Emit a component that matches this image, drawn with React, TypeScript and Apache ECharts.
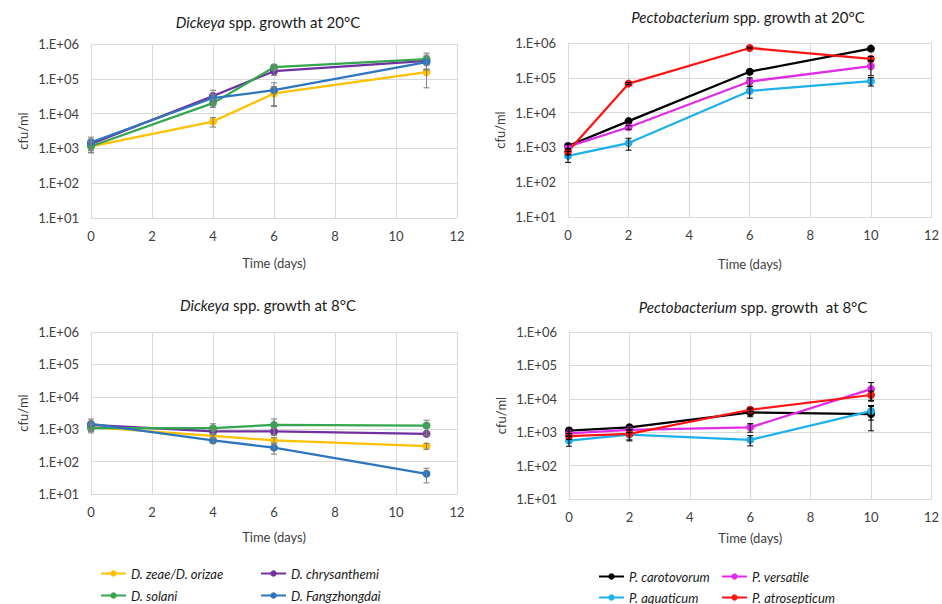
import React, { useEffect, useRef } from 'react';
import * as echarts from 'echarts';

// ---------- data ----------
const dickeyaDays = [0, 4, 6, 11];
const pectoDays = [0, 2, 6, 10];

const dickeyaNames = ['D. zeae/D. orizae', 'D. chrysanthemi', 'D. solani', 'D. Fangzhongdai'];
const pectoNames = ['P. carotovorum', 'P. versatile', 'P. aquaticum', 'P. atrosepticum'];

const dickeyaColors = ['#FFC000', '#7030A0', '#33A64F', '#2E75C0'];
const pectoColors = ['#000000', '#E02CE8', '#1CB0EC', '#FF1414'];

// Dickeya 20°C (cfu/ml) and SD
const zeae20 = [1150, 5900, 38000, 155000];
const zeae20Sd = [400, 1800, 22000, 100000];
const chrys20 = [1350, 32000, 165000, 330000];
const chrys20Sd = [500, 15000, 40000, 150000];
const solani20 = [1150, 20000, 215000, 370000];
const solani20Sd = [400, 5000, 40000, 180000];
const fang20 = [1500, 28000, 47000, 300000];
const fang20Sd = [600, 8000, 30000, 120000];

// Pectobacterium 20°C
const carot20 = [1100, 5700, 150000, 690000];
const carot20Sd = [200, 600, 15000, 90000];
const vers20 = [1050, 3800, 78000, 215000];
const vers20Sd = [150, 500, 22000, 100000];
const aqua20 = [570, 1330, 42000, 80000];
const aqua20Sd = [200, 500, 16000, 22000];
const atro20 = [760, 68000, 720000, 350000];
const atro20Sd = [150, 5000, 40000, 60000];

// Dickeya 8°C
const zeae8 = [1150, 620, 450, 300];
const zeae8Sd = [300, 100, 100, 60];
const chrys8 = [1350, 850, 850, 720];
const chrys8Sd = [400, 150, 200, 100];
const solani8 = [1070, 1070, 1360, 1300];
const solani8Sd = [300, 400, 700, 600];
const fang8 = [1460, 450, 270, 42];
const fang8Sd = [600, 80, 100, 20];

// Pectobacterium 8°C
const carot8 = [1120, 1400, 3900, 3500];
const carot8Sd = [200, 200, 1000, 2400];
const vers8 = [930, 1170, 1400, 19500];
const vers8Sd = [150, 200, 400, 11000];
const aqua8 = [560, 850, 590, 4300];
const aqua8Sd = [180, 300, 200, 2000];
const atro8 = [760, 890, 4700, 13000];
const atro8Sd = [150, 300, 600, 4000];

const panelTitles = [
  { italic: 'Dickeya', rest: ' spp. growth at 20°C' },
  { italic: 'Pectobacterium', rest: ' spp. growth at 20°C' },
  { italic: 'Dickeya', rest: ' spp. growth at 8°C' },
  { italic: 'Pectobacterium', rest: ' spp. growth  at 8°C' },
];

// ---------- layout ----------
const FONT = 'Lato';
const grids = [
  { left: 91, top: 44, width: 366, height: 174 },
  { left: 568, top: 43, width: 367, height: 174 },
  { left: 91, top: 332, width: 366, height: 162 },
  { left: 569, top: 332, width: 367, height: 167 },
];
const titlePos = [
  [268, 22],
  [748, 17],
  [268, 305],
  [753, 307],
];
const xNameGaps = [38, 40, 36, 32];

const panels = [
  { days: dickeyaDays, names: dickeyaNames, colors: dickeyaColors, err: '#7F7F7F',
    vals: [zeae20, chrys20, solani20, fang20], sds: [zeae20Sd, chrys20Sd, solani20Sd, fang20Sd] },
  { days: pectoDays, names: pectoNames, colors: pectoColors, err: '#000000',
    vals: [carot20, vers20, aqua20, atro20], sds: [carot20Sd, vers20Sd, aqua20Sd, atro20Sd] },
  { days: dickeyaDays, names: dickeyaNames, colors: dickeyaColors, err: '#7F7F7F',
    vals: [zeae8, chrys8, solani8, fang8], sds: [zeae8Sd, chrys8Sd, solani8Sd, fang8Sd] },
  { days: pectoDays, names: pectoNames, colors: pectoColors, err: '#000000',
    vals: [carot8, vers8, aqua8, atro8], sds: [carot8Sd, vers8Sd, aqua8Sd, atro8Sd] },
];

const legendPos: [string, number, number][] = [
  ['D. zeae/D. orizae', 100, 571],
  ['D. chrysanthemi', 260, 571],
  ['D. solani', 100, 593],
  ['D. Fangzhongdai', 260, 593],
  ['P. carotovorum', 598, 574],
  ['P. versatile', 721, 574],
  ['P. aquaticum', 598, 595],
  ['P. atrosepticum', 721, 595],
];

function buildOption() {
  const series: any[] = [];
  panels.forEach((p, gi) => {
    p.vals.forEach((vals, si) => {
      const errData = p.days.map((d, k) => [d, Math.max(vals[k] - p.sds[si][k], 1), vals[k] + p.sds[si][k]]);
      const errColor = p.err;
      series.push({
        type: 'custom',
        xAxisIndex: gi,
        yAxisIndex: gi,
        coordinateSystem: 'cartesian2d',
        encode: { x: 0, y: [1, 2] },
        data: errData,
        z: 4,
        silent: true,
        renderItem: (params: any, api: any) => {
          const x = api.value(0);
          const lo = api.value(1);
          const hi = api.value(2);
          const a = api.coord([x, hi]);
          const b = api.coord([x, lo]);
          const w = 3;
          const st = { stroke: errColor, lineWidth: 1 };
          return {
            type: 'group',
            children: [
              { type: 'line', shape: { x1: a[0], y1: a[1], x2: b[0], y2: b[1] }, style: st },
              { type: 'line', shape: { x1: a[0] - w, y1: a[1], x2: a[0] + w, y2: a[1] }, style: st },
              { type: 'line', shape: { x1: b[0] - w, y1: b[1], x2: b[0] + w, y2: b[1] }, style: st },
            ],
          };
        },
      });
      series.push({
        type: 'line',
        name: p.names[si],
        xAxisIndex: gi,
        yAxisIndex: gi,
        data: p.days.map((d, k) => [d, vals[k]]),
        symbol: 'circle',
        symbolSize: 8,
        showSymbol: true,
        lineStyle: { width: 2.25, color: p.colors[si] },
        itemStyle: { color: p.colors[si] },
        z: 3,
      });
    });
  });

  const gridColor = '#D9D9D9';
  const xAxis = grids.map((g, i) => ({
    type: 'value',
    gridIndex: i,
    min: 0,
    max: 12,
    interval: 2,
    name: 'Time (days)',
    nameLocation: 'middle',
    nameGap: xNameGaps[i],
    nameTextStyle: { fontFamily: FONT, fontSize: 13, color: '#404040' },
    axisLine: { show: true, lineStyle: { color: gridColor, width: 1 } },
    axisTick: { show: false },
    axisLabel: { fontFamily: FONT, fontSize: 13, color: '#404040', margin: 11 },
    splitLine: { show: true, lineStyle: { color: gridColor, width: 1 } },
  }));
  const yAxis = grids.map((g, i) => ({
    type: 'log',
    logBase: 10,
    gridIndex: i,
    min: 10,
    max: 1000000,
    splitNumber: 5,
    name: 'cfu/ml',
    nameLocation: 'middle',
    nameGap: 62,
    nameTextStyle: { fontFamily: FONT, fontSize: 13, color: '#404040' },
    axisLine: { show: true, lineStyle: { color: gridColor, width: 1 } },
    axisTick: { show: false },
    axisLabel: {
      fontFamily: FONT,
      fontSize: 13,
      color: '#404040',
      margin: 12,
      formatter: (v: number) => '1.E+' + String(Math.round(Math.log10(v))).padStart(2, '0'),
    },
    splitLine: { show: true, lineStyle: { color: gridColor, width: 1 } },
  }));

  const legend = legendPos.map(([name, x, y]) => ({
    data: [name],
    left: x,
    top: y - 4,
    padding: 0,
    itemWidth: 25,
    itemHeight: 8,
    selectedMode: false,
    textStyle: { fontFamily: FONT, fontSize: 13, fontStyle: 'italic', color: '#1a1a1a' },
  }));

  const graphic = panelTitles.map((t, i) => ({
    type: 'text',
    x: titlePos[i][0],
    y: titlePos[i][1],
    style: {
      text: '{i|' + t.italic + '}{n|' + t.rest + '}',
      textAlign: 'center',
      textVerticalAlign: 'middle',
      rich: {
        i: { fontFamily: FONT, fontSize: 15, fontStyle: 'italic', fill: '#1a1a1a' },
        n: { fontFamily: FONT, fontSize: 15, fill: '#1a1a1a' },
      },
    },
  }));

  return {
    animation: false,
    backgroundColor: '#FFFFFF',
    grid: grids.map((g) => ({ ...g, containLabel: false })),
    xAxis,
    yAxis,
    legend,
    graphic,
    series,
  };
}

export default function App() {
  const ref = useRef<HTMLDivElement>(null);
  useEffect(() => {
    if (!ref.current) return;
    const chart = echarts.init(ref.current, undefined, { renderer: 'svg' });
    chart.setOption(buildOption());
    return () => chart.dispose();
  }, []);
  return (
    <div
      ref={ref}
      style={{ position: 'absolute', left: 0, top: 0, width: 942, height: 604, background: '#fff' }}
    />
  );
}
